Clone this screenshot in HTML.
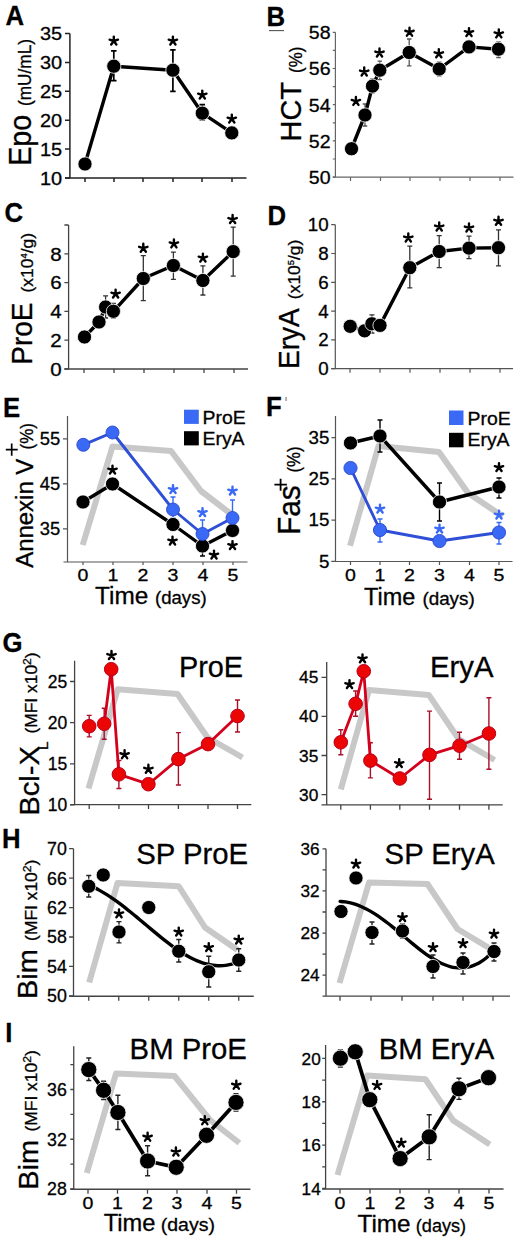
<!DOCTYPE html>
<html><head><meta charset="utf-8"><style>
html,body{margin:0;padding:0;background:#fff;width:520px;height:1242px;overflow:hidden}
svg{display:block}
text{stroke:#000;stroke-width:0.3px;paint-order:stroke}
</style></head><body>
<svg width="520" height="1242" viewBox="0 0 520 1242" font-family='"Liberation Sans", sans-serif'>
<rect width="520" height="1242" fill="#fff"/>
<text transform="translate(5.6 24.6) scale(0.92 1)" font-size="28" text-anchor="start" font-weight="bold" fill="#000" >A</text>
<path d="M69.9 33.5V178M65.0 178H246.5" stroke="#222" stroke-width="1.5" fill="none"/>
<path d="M65.0 33.50H69.9M65.0 62.40H69.9M65.0 91.30H69.9M65.0 120.20H69.9M65.0 149.10H69.9M65.0 178.00H69.9M85 178V182M114 178V182M143 178V182M173 178V182M202 178V182M232 178V182" stroke="#222" stroke-width="1.5" fill="none"/>
<text transform="translate(62.2 40.3) scale(1.05 1)" font-size="19" text-anchor="end" font-weight="normal" fill="#000" >35</text>
<text transform="translate(62.2 69.2) scale(1.05 1)" font-size="19" text-anchor="end" font-weight="normal" fill="#000" >30</text>
<text transform="translate(62.2 98.1) scale(1.05 1)" font-size="19" text-anchor="end" font-weight="normal" fill="#000" >25</text>
<text transform="translate(62.2 127.0) scale(1.05 1)" font-size="19" text-anchor="end" font-weight="normal" fill="#000" >20</text>
<text transform="translate(62.2 155.9) scale(1.05 1)" font-size="19" text-anchor="end" font-weight="normal" fill="#000" >15</text>
<text transform="translate(62.2 184.8) scale(1.05 1)" font-size="19" text-anchor="end" font-weight="normal" fill="#000" >10</text>
<text transform="translate(31.4 165.8) rotate(-90) scale(0.92 1)" font-size="31.2" text-anchor="start" >Epo</text>
<text transform="translate(31.4 106) rotate(-90) scale(0.985 1)" font-size="17.5" text-anchor="start" >(mU/mL)</text>
<path d="M113.8 50.8V80.6M111.05 50.8H116.55M111.05 80.6H116.55" stroke="#000" stroke-width="1.7" fill="none"/>
<path d="M172.9 49.8V91.4M170.15 49.8H175.65M170.15 91.4H175.65" stroke="#000" stroke-width="1.7" fill="none"/>
<path d="M202.3 104.6V120M199.55 104.6H205.05M199.55 120H205.05" stroke="#000" stroke-width="1.7" fill="none"/>
<path d="M85.00 164.00L113.80 66.20L172.90 70.20L202.30 113.20L231.80 132.90" stroke="#000" stroke-width="3.4" fill="none" stroke-linejoin="round" />
<circle cx="85.00" cy="164.00" r="7.1" fill="#000" stroke="#fff" stroke-width="0.8"/>
<circle cx="113.80" cy="66.20" r="7.1" fill="#000" stroke="#fff" stroke-width="0.8"/>
<circle cx="172.90" cy="70.20" r="7.1" fill="#000" stroke="#fff" stroke-width="0.8"/>
<circle cx="202.30" cy="113.20" r="7.1" fill="#000" stroke="#fff" stroke-width="0.8"/>
<circle cx="231.80" cy="132.90" r="7.1" fill="#000" stroke="#fff" stroke-width="0.8"/>
<path d="M113.80 41.00L113.80 36.60M113.80 41.00L117.98 39.64M113.80 41.00L109.62 39.64M113.80 41.00L111.21 44.56M113.80 41.00L116.39 44.56" stroke="#000" stroke-width="2.4" stroke-linecap="round" fill="none"/>
<path d="M172.90 41.00L172.90 36.60M172.90 41.00L177.08 39.64M172.90 41.00L168.72 39.64M172.90 41.00L170.31 44.56M172.90 41.00L175.49 44.56" stroke="#000" stroke-width="2.4" stroke-linecap="round" fill="none"/>
<path d="M202.30 95.00L202.30 90.60M202.30 95.00L206.48 93.64M202.30 95.00L198.12 93.64M202.30 95.00L199.71 98.56M202.30 95.00L204.89 98.56" stroke="#000" stroke-width="2.4" stroke-linecap="round" fill="none"/>
<path d="M231.80 119.00L231.80 114.60M231.80 119.00L235.98 117.64M231.80 119.00L227.62 117.64M231.80 119.00L229.21 122.56M231.80 119.00L234.39 122.56" stroke="#000" stroke-width="2.4" stroke-linecap="round" fill="none"/>
<text transform="translate(266.5 26.2) scale(0.92 1)" font-size="28" text-anchor="start" font-weight="bold" fill="#000" >B</text>
<path d="M269 30.6H284" stroke="#555" stroke-width="1.1"/>
<path d="M335.4 32.3V177.1M332.79999999999995 177.1H513.5" stroke="#666" stroke-width="1.2" fill="none"/>
<path d="M332.79999999999995 32.30H335.4M332.79999999999995 68.50H335.4M332.79999999999995 104.70H335.4M332.79999999999995 140.90H335.4M332.79999999999995 177.10H335.4M332.79999999999995 50.40H335.4M332.79999999999995 86.60H335.4M332.79999999999995 122.80H335.4M332.79999999999995 159.00H335.4M350.5 177.1V181.1M380.5 177.1V181.1M410 177.1V181.1M440 177.1V181.1M470 177.1V181.1M500 177.1V181.1" stroke="#666" stroke-width="1.2" fill="none"/>
<text transform="translate(330.6 39.1) scale(1.03 1)" font-size="19" text-anchor="end" font-weight="normal" fill="#000" >58</text>
<text transform="translate(330.6 75.3) scale(1.03 1)" font-size="19" text-anchor="end" font-weight="normal" fill="#000" >56</text>
<text transform="translate(330.6 111.5) scale(1.03 1)" font-size="19" text-anchor="end" font-weight="normal" fill="#000" >54</text>
<text transform="translate(330.6 147.7) scale(1.03 1)" font-size="19" text-anchor="end" font-weight="normal" fill="#000" >52</text>
<text transform="translate(330.6 183.9) scale(1.03 1)" font-size="19" text-anchor="end" font-weight="normal" fill="#000" >50</text>
<text transform="translate(301.4 141.4) rotate(-90) scale(0.99 1)" font-size="29.2" text-anchor="start" >HCT</text>
<text transform="translate(301.5 73) rotate(-90) scale(0.97 1)" font-size="17.5" text-anchor="start" >(%)</text>
<path d="M365 104V126M362.75 104H367.25M362.75 126H367.25" stroke="#555" stroke-width="1.3" fill="none"/>
<path d="M372.5 79V93M370.25 79H374.75M370.25 93H374.75" stroke="#555" stroke-width="1.3" fill="none"/>
<path d="M379.8 61.2V79.7M377.55 61.2H382.05M377.55 79.7H382.05" stroke="#555" stroke-width="1.3" fill="none"/>
<path d="M409.2 39V65.9M406.95 39H411.45M406.95 65.9H411.45" stroke="#555" stroke-width="1.3" fill="none"/>
<path d="M439.2 62V76M436.95 62H441.45M436.95 76H441.45" stroke="#555" stroke-width="1.3" fill="none"/>
<path d="M469 41V53M466.75 41H471.25M466.75 53H471.25" stroke="#555" stroke-width="1.3" fill="none"/>
<path d="M498.5 42V57.5M496.25 42H500.75M496.25 57.5H500.75" stroke="#555" stroke-width="1.3" fill="none"/>
<path d="M351.50 148.75L365.00 115.00L372.50 86.10L379.80 70.20L409.20 52.50L439.20 69.00L469.00 46.90L498.50 49.20" stroke="#000" stroke-width="3.4" fill="none" stroke-linejoin="round" />
<circle cx="351.50" cy="148.75" r="7.1" fill="#000" stroke="#fff" stroke-width="0.8"/>
<circle cx="365.00" cy="115.00" r="7.1" fill="#000" stroke="#fff" stroke-width="0.8"/>
<circle cx="372.50" cy="86.10" r="7.1" fill="#000" stroke="#fff" stroke-width="0.8"/>
<circle cx="379.80" cy="70.20" r="7.1" fill="#000" stroke="#fff" stroke-width="0.8"/>
<circle cx="409.20" cy="52.50" r="7.1" fill="#000" stroke="#fff" stroke-width="0.8"/>
<circle cx="439.20" cy="69.00" r="7.1" fill="#000" stroke="#fff" stroke-width="0.8"/>
<circle cx="469.00" cy="46.90" r="7.1" fill="#000" stroke="#fff" stroke-width="0.8"/>
<circle cx="498.50" cy="49.20" r="7.1" fill="#000" stroke="#fff" stroke-width="0.8"/>
<path d="M355.90 101.30L355.90 96.90M355.90 101.30L360.08 99.94M355.90 101.30L351.72 99.94M355.90 101.30L353.31 104.86M355.90 101.30L358.49 104.86" stroke="#000" stroke-width="2.4" stroke-linecap="round" fill="none"/>
<path d="M364.20 71.90L364.20 67.50M364.20 71.90L368.38 70.54M364.20 71.90L360.02 70.54M364.20 71.90L361.61 75.46M364.20 71.90L366.79 75.46" stroke="#000" stroke-width="2.4" stroke-linecap="round" fill="none"/>
<path d="M379.50 52.90L379.50 48.50M379.50 52.90L383.68 51.54M379.50 52.90L375.32 51.54M379.50 52.90L376.91 56.46M379.50 52.90L382.09 56.46" stroke="#000" stroke-width="2.4" stroke-linecap="round" fill="none"/>
<path d="M409.50 32.10L409.50 27.70M409.50 32.10L413.68 30.74M409.50 32.10L405.32 30.74M409.50 32.10L406.91 35.66M409.50 32.10L412.09 35.66" stroke="#000" stroke-width="2.4" stroke-linecap="round" fill="none"/>
<path d="M438.80 53.70L438.80 49.30M438.80 53.70L442.98 52.34M438.80 53.70L434.62 52.34M438.80 53.70L436.21 57.26M438.80 53.70L441.39 57.26" stroke="#000" stroke-width="2.4" stroke-linecap="round" fill="none"/>
<path d="M469.00 32.50L469.00 28.10M469.00 32.50L473.18 31.14M469.00 32.50L464.82 31.14M469.00 32.50L466.41 36.06M469.00 32.50L471.59 36.06" stroke="#000" stroke-width="2.4" stroke-linecap="round" fill="none"/>
<path d="M498.80 33.80L498.80 29.40M498.80 33.80L502.98 32.44M498.80 33.80L494.62 32.44M498.80 33.80L496.21 37.36M498.80 33.80L501.39 37.36" stroke="#000" stroke-width="2.4" stroke-linecap="round" fill="none"/>
<text transform="translate(4.5 222.3) scale(0.92 1)" font-size="28" text-anchor="start" font-weight="bold" fill="#000" >C</text>
<path d="M68.6 225V369M64.39999999999999 369H248" stroke="#444" stroke-width="1.3" fill="none"/>
<path d="M64.39999999999999 225.00H68.6M64.39999999999999 253.80H68.6M64.39999999999999 282.60H68.6M64.39999999999999 311.40H68.6M64.39999999999999 340.20H68.6M64.39999999999999 369.00H68.6M84 369V373M114 369V373M144 369V373M174 369V373M204 369V373M234 369V373" stroke="#444" stroke-width="1.3" fill="none"/>
<text transform="translate(61.7 260.6) scale(1.08 1)" font-size="19" text-anchor="end" font-weight="normal" fill="#000" >8</text>
<text transform="translate(61.7 289.4) scale(1.08 1)" font-size="19" text-anchor="end" font-weight="normal" fill="#000" >6</text>
<text transform="translate(61.7 318.2) scale(1.08 1)" font-size="19" text-anchor="end" font-weight="normal" fill="#000" >4</text>
<text transform="translate(61.7 347.0) scale(1.08 1)" font-size="19" text-anchor="end" font-weight="normal" fill="#000" >2</text>
<text transform="translate(61.7 375.8) scale(1.08 1)" font-size="19" text-anchor="end" font-weight="normal" fill="#000" >0</text>
<text transform="translate(32.1 364.7) rotate(-90) scale(0.945 1)" font-size="29.6" text-anchor="start" >ProE</text>
<text transform="translate(33 292.5) rotate(-90) scale(1.03 1)" font-size="17" text-anchor="start" >(x10<tspan font-size="9" dy="-6">4</tspan><tspan dy="6">/g)</tspan></text>
<path d="M105.6 295.8V318M103.1 295.8H108.1M103.1 318H108.1" stroke="#333" stroke-width="1.3" fill="none"/>
<path d="M113.4 303.5V318M110.9 303.5H115.9M110.9 318H115.9" stroke="#333" stroke-width="1.3" fill="none"/>
<path d="M143.3 255.6V300.6M140.8 255.6H145.8M140.8 300.6H145.8" stroke="#333" stroke-width="1.3" fill="none"/>
<path d="M173.4 252.2V279.3M170.9 252.2H175.9M170.9 279.3H175.9" stroke="#333" stroke-width="1.3" fill="none"/>
<path d="M202.9 265.8V295M200.4 265.8H205.4M200.4 295H205.4" stroke="#333" stroke-width="1.3" fill="none"/>
<path d="M233.2 227.2V276.2M230.7 227.2H235.7M230.7 276.2H235.7" stroke="#333" stroke-width="1.3" fill="none"/>
<path d="M84.50 337.00L99.00 322.00L105.60 307.00L113.40 311.30L143.30 278.50L173.40 265.50L202.90 280.50L233.20 251.60" stroke="#000" stroke-width="3.4" fill="none" stroke-linejoin="round" />
<circle cx="84.50" cy="337.00" r="7.1" fill="#000" stroke="#fff" stroke-width="0.8"/>
<circle cx="99.00" cy="322.00" r="7.1" fill="#000" stroke="#fff" stroke-width="0.8"/>
<circle cx="105.60" cy="307.00" r="7.1" fill="#000" stroke="#fff" stroke-width="0.8"/>
<circle cx="113.40" cy="311.30" r="7.1" fill="#000" stroke="#fff" stroke-width="0.8"/>
<circle cx="143.30" cy="278.50" r="7.1" fill="#000" stroke="#fff" stroke-width="0.8"/>
<circle cx="173.40" cy="265.50" r="7.1" fill="#000" stroke="#fff" stroke-width="0.8"/>
<circle cx="202.90" cy="280.50" r="7.1" fill="#000" stroke="#fff" stroke-width="0.8"/>
<circle cx="233.20" cy="251.60" r="7.1" fill="#000" stroke="#fff" stroke-width="0.8"/>
<path d="M115.60 294.00L115.60 289.60M115.60 294.00L119.78 292.64M115.60 294.00L111.42 292.64M115.60 294.00L113.01 297.56M115.60 294.00L118.19 297.56" stroke="#000" stroke-width="2.4" stroke-linecap="round" fill="none"/>
<path d="M143.30 248.20L143.30 243.80M143.30 248.20L147.48 246.84M143.30 248.20L139.12 246.84M143.30 248.20L140.71 251.76M143.30 248.20L145.89 251.76" stroke="#000" stroke-width="2.4" stroke-linecap="round" fill="none"/>
<path d="M173.90 243.80L173.90 239.40M173.90 243.80L178.08 242.44M173.90 243.80L169.72 242.44M173.90 243.80L171.31 247.36M173.90 243.80L176.49 247.36" stroke="#000" stroke-width="2.4" stroke-linecap="round" fill="none"/>
<path d="M202.90 258.00L202.90 253.60M202.90 258.00L207.08 256.64M202.90 258.00L198.72 256.64M202.90 258.00L200.31 261.56M202.90 258.00L205.49 261.56" stroke="#000" stroke-width="2.4" stroke-linecap="round" fill="none"/>
<path d="M232.60 219.40L232.60 215.00M232.60 219.40L236.78 218.04M232.60 219.40L228.42 218.04M232.60 219.40L230.01 222.96M232.60 219.40L235.19 222.96" stroke="#000" stroke-width="2.4" stroke-linecap="round" fill="none"/>
<text transform="translate(267.5 224.6) scale(0.92 1)" font-size="28" text-anchor="start" font-weight="bold" fill="#000" >D</text>
<path d="M335.3 224.7V368.7M331.2 368.7H513" stroke="#555" stroke-width="1.2" fill="none"/>
<path d="M331.2 224.70H335.3M331.2 253.50H335.3M331.2 282.30H335.3M331.2 311.10H335.3M331.2 339.90H335.3M331.2 368.70H335.3M350 368.7V372.7M380 368.7V372.7M410 368.7V372.7M440 368.7V372.7M470 368.7V372.7M500 368.7V372.7" stroke="#555" stroke-width="1.2" fill="none"/>
<text transform="translate(328.6 231.14) scale(1.04 1)" font-size="18" text-anchor="end" font-weight="normal" fill="#000" >10</text>
<text transform="translate(328.6 259.94) scale(1.04 1)" font-size="18" text-anchor="end" font-weight="normal" fill="#000" >8</text>
<text transform="translate(328.6 288.74) scale(1.04 1)" font-size="18" text-anchor="end" font-weight="normal" fill="#000" >6</text>
<text transform="translate(328.6 317.54) scale(1.04 1)" font-size="18" text-anchor="end" font-weight="normal" fill="#000" >4</text>
<text transform="translate(328.6 346.34) scale(1.04 1)" font-size="18" text-anchor="end" font-weight="normal" fill="#000" >2</text>
<text transform="translate(328.6 375.14) scale(1.04 1)" font-size="18" text-anchor="end" font-weight="normal" fill="#000" >0</text>
<text transform="translate(298.5 369) rotate(-90) scale(0.93 1)" font-size="30.2" text-anchor="start" >EryA</text>
<text transform="translate(299.5 299.2) rotate(-90) scale(1.03 1)" font-size="17" text-anchor="start" >(x10<tspan font-size="9" dy="-6">5</tspan><tspan dy="6">/g)</tspan></text>
<path d="M371.9 314.8V333M369.4 314.8H374.4M369.4 333H374.4" stroke="#333" stroke-width="1.3" fill="none"/>
<path d="M409.8 246.2V287.9M407.3 246.2H412.3M407.3 287.9H412.3" stroke="#333" stroke-width="1.3" fill="none"/>
<path d="M439.2 235.6V267.7M436.7 235.6H441.7M436.7 267.7H441.7" stroke="#333" stroke-width="1.3" fill="none"/>
<path d="M469 236.2V258.7M466.5 236.2H471.5M466.5 258.7H471.5" stroke="#333" stroke-width="1.3" fill="none"/>
<path d="M498.5 229.8V265.8M496.0 229.8H501.0M496.0 265.8H501.0" stroke="#333" stroke-width="1.3" fill="none"/>
<path d="M350.20 326.30L364.60 330.80L371.90 323.80L380.00 325.40L409.80 267.70L439.20 251.50L469.00 248.10L498.50 247.70" stroke="#000" stroke-width="3.4" fill="none" stroke-linejoin="round" />
<circle cx="350.20" cy="326.30" r="7.1" fill="#000" stroke="#fff" stroke-width="0.8"/>
<circle cx="364.60" cy="330.80" r="7.1" fill="#000" stroke="#fff" stroke-width="0.8"/>
<circle cx="371.90" cy="323.80" r="7.1" fill="#000" stroke="#fff" stroke-width="0.8"/>
<circle cx="380.00" cy="325.40" r="7.1" fill="#000" stroke="#fff" stroke-width="0.8"/>
<circle cx="409.80" cy="267.70" r="7.1" fill="#000" stroke="#fff" stroke-width="0.8"/>
<circle cx="439.20" cy="251.50" r="7.1" fill="#000" stroke="#fff" stroke-width="0.8"/>
<circle cx="469.00" cy="248.10" r="7.1" fill="#000" stroke="#fff" stroke-width="0.8"/>
<circle cx="498.50" cy="247.70" r="7.1" fill="#000" stroke="#fff" stroke-width="0.8"/>
<path d="M408.30 237.90L408.30 233.50M408.30 237.90L412.48 236.54M408.30 237.90L404.12 236.54M408.30 237.90L405.71 241.46M408.30 237.90L410.89 241.46" stroke="#000" stroke-width="2.4" stroke-linecap="round" fill="none"/>
<path d="M439.20 226.90L439.20 222.50M439.20 226.90L443.38 225.54M439.20 226.90L435.02 225.54M439.20 226.90L436.61 230.46M439.20 226.90L441.79 230.46" stroke="#000" stroke-width="2.4" stroke-linecap="round" fill="none"/>
<path d="M469.00 227.90L469.00 223.50M469.00 227.90L473.18 226.54M469.00 227.90L464.82 226.54M469.00 227.90L466.41 231.46M469.00 227.90L471.59 231.46" stroke="#000" stroke-width="2.4" stroke-linecap="round" fill="none"/>
<path d="M498.50 221.20L498.50 216.80M498.50 221.20L502.68 219.84M498.50 221.20L494.32 219.84M498.50 221.20L495.91 224.76M498.50 221.20L501.09 224.76" stroke="#000" stroke-width="2.4" stroke-linecap="round" fill="none"/>
<text transform="translate(3 416.5) scale(0.92 1)" font-size="28" text-anchor="start" font-weight="bold" fill="#000" >E</text>
<path d="M67.5 416V562M63.5 562H247.5" stroke="#555" stroke-width="1.2" fill="none"/>
<path d="M63.0 438.80H67.5M63.0 483.80H67.5M63.0 528.80H67.5M83 562V565M113 562V565M143 562V565M173 562V565M203 562V565M233 562V565" stroke="#555" stroke-width="1.2" fill="none"/>
<text transform="translate(60.3 445.06) scale(1.05 1)" font-size="17.5" text-anchor="end" font-weight="normal" fill="#000" >55</text>
<text transform="translate(60.3 490.06) scale(1.05 1)" font-size="17.5" text-anchor="end" font-weight="normal" fill="#000" >45</text>
<text transform="translate(60.3 535.06) scale(1.05 1)" font-size="17.5" text-anchor="end" font-weight="normal" fill="#000" >35</text>
<text transform="translate(83 581) scale(1.15 1)" font-size="17" text-anchor="middle" font-weight="normal" fill="#000" >0</text>
<text transform="translate(113 581) scale(1.15 1)" font-size="17" text-anchor="middle" font-weight="normal" fill="#000" >1</text>
<text transform="translate(143 581) scale(1.15 1)" font-size="17" text-anchor="middle" font-weight="normal" fill="#000" >2</text>
<text transform="translate(173 581) scale(1.15 1)" font-size="17" text-anchor="middle" font-weight="normal" fill="#000" >3</text>
<text transform="translate(203 581) scale(1.15 1)" font-size="17" text-anchor="middle" font-weight="normal" fill="#000" >4</text>
<text transform="translate(233 581) scale(1.15 1)" font-size="17" text-anchor="middle" font-weight="normal" fill="#000" >5</text>
<text transform="translate(95.1 604) scale(1.06 1)" font-size="23" text-anchor="start" font-weight="normal" fill="#000" >Time</text>
<text transform="translate(155.05 604) scale(1.015 1)" font-size="18.3" text-anchor="start" font-weight="normal" fill="#000" >(days)</text>
<text transform="translate(32.9 567.8) rotate(-90) scale(0.99 1)" font-size="24.2" text-anchor="start" >Annexin V</text>
<path d="M11.7 443.5V455.8M5.8 449.6H17.7" stroke="#000" stroke-width="1.7"/>
<text transform="translate(32.6 449.5) rotate(-90) scale(0.975 1)" font-size="17.5" text-anchor="start" >(%)</text>
<path d="M82.70 545.00L112.50 446.50L171.00 451.00L201.00 491.00L231.00 514.00" stroke="#c8c8c8" stroke-width="6.0" fill="none" stroke-linejoin="round" stroke-linecap="butt"/>
<path d="M173 497V518M170.5 497H175.5M170.5 518H175.5" stroke="#3a6af5" stroke-width="1.4" fill="none"/>
<path d="M202.5 520V540M200.0 520H205.0M200.0 540H205.0" stroke="#3a6af5" stroke-width="1.4" fill="none"/>
<path d="M232.5 500V525M230.0 500H235.0M230.0 525H235.0" stroke="#3a6af5" stroke-width="1.4" fill="none"/>
<path d="M202.5 540V556M200.0 540H205.0M200.0 556H205.0" stroke="#000" stroke-width="1.4" fill="none"/>
<path d="M83.00 502.00L112.50 484.00L173.00 524.50L202.50 546.00L232.50 530.50" stroke="#000" stroke-width="3.4" fill="none" stroke-linejoin="round" />
<path d="M83.30 444.80L112.50 432.50L173.00 509.50L202.50 534.00L232.50 518.00" stroke="#2e4fd6" stroke-width="2.9" fill="none" stroke-linejoin="round" />
<circle cx="83.00" cy="502.00" r="7.1" fill="#000" stroke="#fff" stroke-width="0.8"/>
<circle cx="112.50" cy="484.00" r="7.1" fill="#000" stroke="#fff" stroke-width="0.8"/>
<circle cx="173.00" cy="524.50" r="7.1" fill="#000" stroke="#fff" stroke-width="0.8"/>
<circle cx="202.50" cy="546.00" r="7.1" fill="#000" stroke="#fff" stroke-width="0.8"/>
<circle cx="232.50" cy="530.50" r="7.1" fill="#000" stroke="#fff" stroke-width="0.8"/>
<circle cx="83.30" cy="444.80" r="6.5" fill="#3a6af5" stroke="#2a48cc" stroke-width="0.9"/>
<circle cx="112.50" cy="432.50" r="6.5" fill="#3a6af5" stroke="#2a48cc" stroke-width="0.9"/>
<circle cx="173.00" cy="509.50" r="6.5" fill="#3a6af5" stroke="#2a48cc" stroke-width="0.9"/>
<circle cx="202.50" cy="534.00" r="6.5" fill="#3a6af5" stroke="#2a48cc" stroke-width="0.9"/>
<circle cx="232.50" cy="518.00" r="6.5" fill="#3a6af5" stroke="#2a48cc" stroke-width="0.9"/>
<path d="M112.50 470.00L112.50 465.60M112.50 470.00L116.68 468.64M112.50 470.00L108.32 468.64M112.50 470.00L109.91 473.56M112.50 470.00L115.09 473.56" stroke="#000" stroke-width="2.4" stroke-linecap="round" fill="none"/>
<path d="M172.50 541.00L172.50 536.60M172.50 541.00L176.68 539.64M172.50 541.00L168.32 539.64M172.50 541.00L169.91 544.56M172.50 541.00L175.09 544.56" stroke="#000" stroke-width="2.4" stroke-linecap="round" fill="none"/>
<path d="M214.00 555.00L214.00 550.60M214.00 555.00L218.18 553.64M214.00 555.00L209.82 553.64M214.00 555.00L211.41 558.56M214.00 555.00L216.59 558.56" stroke="#000" stroke-width="2.4" stroke-linecap="round" fill="none"/>
<path d="M232.50 545.50L232.50 541.10M232.50 545.50L236.68 544.14M232.50 545.50L228.32 544.14M232.50 545.50L229.91 549.06M232.50 545.50L235.09 549.06" stroke="#000" stroke-width="2.4" stroke-linecap="round" fill="none"/>
<path d="M173.00 489.50L173.00 485.10M173.00 489.50L177.18 488.14M173.00 489.50L168.82 488.14M173.00 489.50L170.41 493.06M173.00 489.50L175.59 493.06" stroke="#3a6af5" stroke-width="2.4" stroke-linecap="round" fill="none"/>
<path d="M202.50 512.50L202.50 508.10M202.50 512.50L206.68 511.14M202.50 512.50L198.32 511.14M202.50 512.50L199.91 516.06M202.50 512.50L205.09 516.06" stroke="#3a6af5" stroke-width="2.4" stroke-linecap="round" fill="none"/>
<path d="M232.50 491.00L232.50 486.60M232.50 491.00L236.68 489.64M232.50 491.00L228.32 489.64M232.50 491.00L229.91 494.56M232.50 491.00L235.09 494.56" stroke="#3a6af5" stroke-width="2.4" stroke-linecap="round" fill="none"/>
<rect x="184" y="409.7" width="14.8" height="14.2" fill="#3a6af5"/>
<rect x="184" y="431.2" width="14.8" height="14.2" fill="#000"/>
<text transform="translate(202.5 423.8) scale(1.05 1)" font-size="18.5" text-anchor="start" font-weight="normal" fill="#000" >ProE</text>
<text transform="translate(202.5 445.1) scale(1.05 1)" font-size="18.5" text-anchor="start" font-weight="normal" fill="#000" >EryA</text>
<text transform="translate(266 416.2) scale(0.92 1)" font-size="28" text-anchor="start" font-weight="bold" fill="#000" >F</text>
<path d="M286.1 397V401" stroke="#888" stroke-width="1.3"/>
<path d="M335.5 416V561.5M331.5 561.5H512.5" stroke="#555" stroke-width="1.2" fill="none"/>
<path d="M331.5 437.60H335.5M331.5 478.87H335.5M331.5 520.14H335.5M331.5 561.41H335.5M350.5 561.5V565.0M380 561.5V565.0M409.5 561.5V565.0M439.5 561.5V565.0M469.5 561.5V565.0M499 561.5V565.0" stroke="#555" stroke-width="1.2" fill="none"/>
<text transform="translate(329.3 443.87) scale(1.07 1)" font-size="17.5" text-anchor="end" font-weight="normal" fill="#000" >35</text>
<text transform="translate(329.3 485.13) scale(1.07 1)" font-size="17.5" text-anchor="end" font-weight="normal" fill="#000" >25</text>
<text transform="translate(329.3 526.4) scale(1.07 1)" font-size="17.5" text-anchor="end" font-weight="normal" fill="#000" >15</text>
<text transform="translate(329.3 567.67) scale(1.07 1)" font-size="17.5" text-anchor="end" font-weight="normal" fill="#000" >5</text>
<text transform="translate(350.5 581) scale(1.15 1)" font-size="17" text-anchor="middle" font-weight="normal" fill="#000" >0</text>
<text transform="translate(380 581) scale(1.15 1)" font-size="17" text-anchor="middle" font-weight="normal" fill="#000" >1</text>
<text transform="translate(409.5 581) scale(1.15 1)" font-size="17" text-anchor="middle" font-weight="normal" fill="#000" >2</text>
<text transform="translate(439.5 581) scale(1.15 1)" font-size="17" text-anchor="middle" font-weight="normal" fill="#000" >3</text>
<text transform="translate(469.5 581) scale(1.15 1)" font-size="17" text-anchor="middle" font-weight="normal" fill="#000" >4</text>
<text transform="translate(499 581) scale(1.15 1)" font-size="17" text-anchor="middle" font-weight="normal" fill="#000" >5</text>
<text transform="translate(364.0 604.7) scale(1.02 1)" font-size="23" text-anchor="start" font-weight="normal" fill="#000" >Time</text>
<text transform="translate(422.4 604.7) scale(1.03 1)" font-size="18.3" text-anchor="start" font-weight="normal" fill="#000" >(days)</text>
<text transform="translate(299.7 535) rotate(-90) scale(0.98 1)" font-size="30.5" text-anchor="start" >Fas</text>
<path d="M280.6 478.7V490.8M274.4 484.7H286.9" stroke="#000" stroke-width="1.8"/>
<text transform="translate(299.7 472.5) rotate(-90) scale(0.96 1)" font-size="17.5" text-anchor="start" >(%)</text>
<path d="M350.00 545.80L378.50 446.00L439.00 452.00L468.00 493.00L503.00 516.50" stroke="#c8c8c8" stroke-width="6.0" fill="none" stroke-linejoin="round" stroke-linecap="butt"/>
<path d="M380 420V452M377.5 420H382.5M377.5 452H382.5" stroke="#000" stroke-width="1.4" fill="none"/>
<path d="M439.5 483V521M437.0 483H442.0M437.0 521H442.0" stroke="#000" stroke-width="1.4" fill="none"/>
<path d="M499 478V498M496.5 478H501.5M496.5 498H501.5" stroke="#000" stroke-width="1.4" fill="none"/>
<path d="M380 519V542M377.5 519H382.5M377.5 542H382.5" stroke="#3a6af5" stroke-width="1.4" fill="none"/>
<path d="M499 522.5V544M496.5 522.5H501.5M496.5 544H501.5" stroke="#3a6af5" stroke-width="1.4" fill="none"/>
<path d="M350.50 443.00L380.00 436.00L439.50 502.00L499.00 487.00" stroke="#000" stroke-width="3.4" fill="none" stroke-linejoin="round" />
<path d="M350.50 468.00L380.00 530.00L439.50 541.00L499.00 532.50" stroke="#2e4fd6" stroke-width="2.9" fill="none" stroke-linejoin="round" />
<circle cx="350.50" cy="443.00" r="7.1" fill="#000" stroke="#fff" stroke-width="0.8"/>
<circle cx="380.00" cy="436.00" r="7.1" fill="#000" stroke="#fff" stroke-width="0.8"/>
<circle cx="439.50" cy="502.00" r="7.1" fill="#000" stroke="#fff" stroke-width="0.8"/>
<circle cx="499.00" cy="487.00" r="7.1" fill="#000" stroke="#fff" stroke-width="0.8"/>
<circle cx="350.50" cy="468.00" r="6.6" fill="#3a6af5" stroke="#2a48cc" stroke-width="0.9"/>
<circle cx="380.00" cy="530.00" r="6.6" fill="#3a6af5" stroke="#2a48cc" stroke-width="0.9"/>
<circle cx="439.50" cy="541.00" r="6.6" fill="#3a6af5" stroke="#2a48cc" stroke-width="0.9"/>
<circle cx="499.00" cy="532.50" r="6.6" fill="#3a6af5" stroke="#2a48cc" stroke-width="0.9"/>
<path d="M499.00 467.50L499.00 463.10M499.00 467.50L503.18 466.14M499.00 467.50L494.82 466.14M499.00 467.50L496.41 471.06M499.00 467.50L501.59 471.06" stroke="#000" stroke-width="2.4" stroke-linecap="round" fill="none"/>
<path d="M380.00 509.00L380.00 504.60M380.00 509.00L384.18 507.64M380.00 509.00L375.82 507.64M380.00 509.00L377.41 512.56M380.00 509.00L382.59 512.56" stroke="#3a6af5" stroke-width="2.4" stroke-linecap="round" fill="none"/>
<path d="M439.50 529.00L439.50 524.60M439.50 529.00L443.68 527.64M439.50 529.00L435.32 527.64M439.50 529.00L436.91 532.56M439.50 529.00L442.09 532.56" stroke="#3a6af5" stroke-width="2.4" stroke-linecap="round" fill="none"/>
<path d="M499.00 515.00L499.00 510.60M499.00 515.00L503.18 513.64M499.00 515.00L494.82 513.64M499.00 515.00L496.41 518.56M499.00 515.00L501.59 518.56" stroke="#3a6af5" stroke-width="2.4" stroke-linecap="round" fill="none"/>
<rect x="449" y="410.5" width="14.5" height="14.5" fill="#3a6af5"/>
<rect x="449" y="432.8" width="14.5" height="14.5" fill="#000"/>
<text transform="translate(467.5 425) scale(1.05 1)" font-size="18.5" text-anchor="start" font-weight="normal" fill="#000" >ProE</text>
<text transform="translate(467.5 446.3) scale(1.05 1)" font-size="18.5" text-anchor="start" font-weight="normal" fill="#000" >EryA</text>
<text transform="translate(2.5 651.5) scale(0.92 1)" font-size="28" text-anchor="start" font-weight="bold" fill="#000" >G</text>
<path d="M74.6 660.8V804.6M70.0 804.6H251.3" stroke="#444" stroke-width="1.3" fill="none"/>
<path d="M70.0 681.50H74.6M70.0 722.65H74.6M70.0 763.80H74.6M70.0 804.95H74.6M89.2 804.6V809.1M118.9 804.6V809.1M148.5 804.6V809.1M178.4 804.6V809.1M208 804.6V809.1M237.5 804.6V809.1" stroke="#444" stroke-width="1.3" fill="none"/>
<text transform="translate(67.3 687.76) scale(1.0 1)" font-size="17.5" text-anchor="end" font-weight="normal" fill="#000" >25</text>
<text transform="translate(67.3 728.91) scale(1.0 1)" font-size="17.5" text-anchor="end" font-weight="normal" fill="#000" >20</text>
<text transform="translate(67.3 770.06) scale(1.0 1)" font-size="17.5" text-anchor="end" font-weight="normal" fill="#000" >15</text>
<text transform="translate(67.3 811.22) scale(1.0 1)" font-size="17.5" text-anchor="end" font-weight="normal" fill="#000" >10</text>
<text transform="translate(39.4 815.8) rotate(-90) scale(1.045 1)" font-size="28" text-anchor="start" >Bcl-X</text>
<text transform="translate(47.5 750) rotate(-90) scale(1.0 1)" font-size="15.5" text-anchor="start" >L</text>
<text transform="translate(37.1 733.6) rotate(-90) scale(1.056 1)" font-size="16.5" text-anchor="start" >(MFI x10<tspan font-size="11.5" dy="-6">2</tspan><tspan dy="6">)</tspan></text>
<path d="M88.50 788.50L117.70 689.20L177.50 694.00L207.50 737.50L242.50 757.50" stroke="#c8c8c8" stroke-width="6.0" fill="none" stroke-linejoin="round" stroke-linecap="butt"/>
<path d="M89.2 715.4V736.9M86.7 715.4H91.7M86.7 736.9H91.7" stroke="#a8102a" stroke-width="1.4" fill="none"/>
<path d="M104.2 708.2V739.2M101.7 708.2H106.7M101.7 739.2H106.7" stroke="#a8102a" stroke-width="1.4" fill="none"/>
<path d="M118.9 760.5V788.5M116.4 760.5H121.4M116.4 788.5H121.4" stroke="#a8102a" stroke-width="1.4" fill="none"/>
<path d="M178.4 732.6V785M175.9 732.6H180.9M175.9 785H180.9" stroke="#a8102a" stroke-width="1.4" fill="none"/>
<path d="M237.5 700V732M235.0 700H240.0M235.0 732H240.0" stroke="#a8102a" stroke-width="1.4" fill="none"/>
<path d="M104.20 723.80L111.20 669.20L118.90 774.30L148.40 784.20L178.40 759.10L208.00 744.10L237.50 716.00" stroke="#d4001c" stroke-width="2.8" fill="none" stroke-linejoin="round" />
<circle cx="89.20" cy="726.20" r="6.8" fill="#ec0505" stroke="#b8001a" stroke-width="1.0"/>
<circle cx="104.20" cy="723.80" r="6.8" fill="#ec0505" stroke="#b8001a" stroke-width="1.0"/>
<circle cx="111.20" cy="669.20" r="6.8" fill="#ec0505" stroke="#b8001a" stroke-width="1.0"/>
<circle cx="118.90" cy="774.30" r="6.8" fill="#ec0505" stroke="#b8001a" stroke-width="1.0"/>
<circle cx="148.40" cy="784.20" r="6.8" fill="#ec0505" stroke="#b8001a" stroke-width="1.0"/>
<circle cx="178.40" cy="759.10" r="6.8" fill="#ec0505" stroke="#b8001a" stroke-width="1.0"/>
<circle cx="208.00" cy="744.10" r="6.8" fill="#ec0505" stroke="#b8001a" stroke-width="1.0"/>
<circle cx="237.50" cy="716.00" r="6.8" fill="#ec0505" stroke="#b8001a" stroke-width="1.0"/>
<path d="M111.50 655.40L111.50 651.00M111.50 655.40L115.68 654.04M111.50 655.40L107.32 654.04M111.50 655.40L108.91 658.96M111.50 655.40L114.09 658.96" stroke="#000" stroke-width="2.4" stroke-linecap="round" fill="none"/>
<path d="M124.60 754.60L124.60 750.20M124.60 754.60L128.78 753.24M124.60 754.60L120.42 753.24M124.60 754.60L122.01 758.16M124.60 754.60L127.19 758.16" stroke="#000" stroke-width="2.4" stroke-linecap="round" fill="none"/>
<path d="M148.40 769.20L148.40 764.80M148.40 769.20L152.58 767.84M148.40 769.20L144.22 767.84M148.40 769.20L145.81 772.76M148.40 769.20L150.99 772.76" stroke="#000" stroke-width="2.4" stroke-linecap="round" fill="none"/>
<text transform="translate(178.9 677.3) scale(0.985 1)" font-size="29.3" text-anchor="start" font-weight="normal" fill="#000" >ProE</text>
<path d="M326.7 662V804.8M321.5 804.8H502.7" stroke="#444" stroke-width="1.3" fill="none"/>
<path d="M321.5 677.30H326.7M321.5 716.40H326.7M321.5 755.50H326.7M321.5 794.60H326.7M340.8 804.8V809.8M370.4 804.8V809.8M399.8 804.8V809.8M429.5 804.8V809.8M459.5 804.8V809.8M488.9 804.8V809.8" stroke="#444" stroke-width="1.3" fill="none"/>
<text transform="translate(318.4 683.39) scale(1.02 1)" font-size="17" text-anchor="end" font-weight="normal" fill="#000" >45</text>
<text transform="translate(318.4 722.49) scale(1.02 1)" font-size="17" text-anchor="end" font-weight="normal" fill="#000" >40</text>
<text transform="translate(318.4 761.59) scale(1.02 1)" font-size="17" text-anchor="end" font-weight="normal" fill="#000" >35</text>
<text transform="translate(318.4 800.69) scale(1.02 1)" font-size="17" text-anchor="end" font-weight="normal" fill="#000" >30</text>
<path d="M340.80 789.40L369.00 690.00L428.80 694.90L458.80 739.20L494.60 760.00" stroke="#c8c8c8" stroke-width="6.0" fill="none" stroke-linejoin="round" stroke-linecap="butt"/>
<path d="M340.8 729.8V754.8M338.3 729.8H343.3M338.3 754.8H343.3" stroke="#a8102a" stroke-width="1.4" fill="none"/>
<path d="M355.6 691V716.3M353.1 691H358.1M353.1 716.3H358.1" stroke="#a8102a" stroke-width="1.4" fill="none"/>
<path d="M370.4 742.7V777.9M367.9 742.7H372.9M367.9 777.9H372.9" stroke="#a8102a" stroke-width="1.4" fill="none"/>
<path d="M429.5 711.1V799.2M427.0 711.1H432.0M427.0 799.2H432.0" stroke="#a8102a" stroke-width="1.4" fill="none"/>
<path d="M459.5 732.3V759.3M457.0 732.3H462.0M457.0 759.3H462.0" stroke="#a8102a" stroke-width="1.4" fill="none"/>
<path d="M488.9 697.7V769.2M486.4 697.7H491.4M486.4 769.2H491.4" stroke="#a8102a" stroke-width="1.4" fill="none"/>
<path d="M340.80 742.30L355.60 703.80L363.75 671.25L370.40 760.60L399.80 778.50L429.50 754.90L459.50 745.70L488.90 733.50" stroke="#d4001c" stroke-width="2.8" fill="none" stroke-linejoin="round" />
<circle cx="340.80" cy="742.30" r="6.8" fill="#ec0505" stroke="#b8001a" stroke-width="1.0"/>
<circle cx="355.60" cy="703.80" r="6.8" fill="#ec0505" stroke="#b8001a" stroke-width="1.0"/>
<circle cx="363.75" cy="671.25" r="6.8" fill="#ec0505" stroke="#b8001a" stroke-width="1.0"/>
<circle cx="370.40" cy="760.60" r="6.8" fill="#ec0505" stroke="#b8001a" stroke-width="1.0"/>
<circle cx="399.80" cy="778.50" r="6.8" fill="#ec0505" stroke="#b8001a" stroke-width="1.0"/>
<circle cx="429.50" cy="754.90" r="6.8" fill="#ec0505" stroke="#b8001a" stroke-width="1.0"/>
<circle cx="459.50" cy="745.70" r="6.8" fill="#ec0505" stroke="#b8001a" stroke-width="1.0"/>
<circle cx="488.90" cy="733.50" r="6.8" fill="#ec0505" stroke="#b8001a" stroke-width="1.0"/>
<path d="M349.50 684.50L349.50 680.10M349.50 684.50L353.68 683.14M349.50 684.50L345.32 683.14M349.50 684.50L346.91 688.06M349.50 684.50L352.09 688.06" stroke="#000" stroke-width="2.4" stroke-linecap="round" fill="none"/>
<path d="M362.50 658.75L362.50 654.35M362.50 658.75L366.68 657.39M362.50 658.75L358.32 657.39M362.50 658.75L359.91 662.31M362.50 658.75L365.09 662.31" stroke="#000" stroke-width="2.4" stroke-linecap="round" fill="none"/>
<path d="M399.20 763.50L399.20 759.10M399.20 763.50L403.38 762.14M399.20 763.50L395.02 762.14M399.20 763.50L396.61 767.06M399.20 763.50L401.79 767.06" stroke="#000" stroke-width="2.4" stroke-linecap="round" fill="none"/>
<text transform="translate(430 677) scale(1.0 1)" font-size="29.3" text-anchor="start" font-weight="normal" fill="#000" >EryA</text>
<text transform="translate(2 848) scale(0.92 1)" font-size="28" text-anchor="start" font-weight="bold" fill="#000" >H</text>
<path d="M73.5 848.7V996.25M69.1 996.25H253.75" stroke="#444" stroke-width="1.3" fill="none"/>
<path d="M69.1 848.70H73.5M69.1 878.14H73.5M69.1 907.58H73.5M69.1 937.02H73.5M69.1 966.46H73.5M69.1 995.90H73.5M88.75 996.25V1000.75M118.75 996.25V1000.75M148.75 996.25V1000.75M178.75 996.25V1000.75M208.75 996.25V1000.75M238.75 996.25V1000.75" stroke="#444" stroke-width="1.3" fill="none"/>
<text transform="translate(66.9 855.07) scale(1.0 1)" font-size="17.8" text-anchor="end" font-weight="normal" fill="#000" >70</text>
<text transform="translate(66.9 884.51) scale(1.0 1)" font-size="17.8" text-anchor="end" font-weight="normal" fill="#000" >66</text>
<text transform="translate(66.9 913.95) scale(1.0 1)" font-size="17.8" text-anchor="end" font-weight="normal" fill="#000" >62</text>
<text transform="translate(66.9 943.39) scale(1.0 1)" font-size="17.8" text-anchor="end" font-weight="normal" fill="#000" >58</text>
<text transform="translate(66.9 972.83) scale(1.0 1)" font-size="17.8" text-anchor="end" font-weight="normal" fill="#000" >54</text>
<text transform="translate(66.9 1002.27) scale(1.0 1)" font-size="17.8" text-anchor="end" font-weight="normal" fill="#000" >50</text>
<text transform="translate(37.3 998.9) rotate(-90) scale(1.036 1)" font-size="27.9" text-anchor="start" >Bim</text>
<text transform="translate(37.1 940.9) rotate(-90) scale(1.056 1)" font-size="16.5" text-anchor="start" >(MFI x10<tspan font-size="11.5" dy="-6">2</tspan><tspan dy="6">)</tspan></text>
<path d="M89.20 982.50L117.50 883.00L178.75 886.25L205.00 927.50L237.50 950.00" stroke="#c8c8c8" stroke-width="6.0" fill="none" stroke-linejoin="round" stroke-linecap="butt"/>
<path d="M89.30 885.17C90.16 885.58 92.73 886.76 94.44 887.63C96.16 888.50 97.87 889.42 99.59 890.38C101.30 891.34 103.02 892.35 104.73 893.40C106.45 894.45 108.16 895.55 109.88 896.69C111.59 897.82 113.31 899.00 115.02 900.21C116.74 901.42 118.45 902.67 120.17 903.95C121.88 905.23 123.60 906.54 125.31 907.88C127.03 909.22 128.74 910.58 130.46 911.96C132.17 913.34 133.89 914.75 135.60 916.17C137.32 917.58 139.03 919.02 140.75 920.46C142.46 921.89 144.18 923.34 145.89 924.79C147.61 926.23 149.32 927.68 151.04 929.12C152.75 930.55 154.47 931.99 156.18 933.41C157.90 934.82 159.61 936.23 161.33 937.61C163.04 938.99 164.76 940.35 166.47 941.68C168.19 943.01 169.90 944.32 171.62 945.58C173.33 946.84 175.05 948.07 176.76 949.25C178.48 950.43 180.19 951.58 181.91 952.66C183.62 953.75 185.34 954.79 187.05 955.76C188.77 956.74 190.48 957.66 192.20 958.51C193.91 959.37 195.63 960.16 197.34 960.87C199.06 961.59 200.77 962.24 202.49 962.80C204.20 963.37 205.92 963.86 207.63 964.27C209.35 964.67 211.06 965.00 212.78 965.24C214.49 965.47 216.21 965.63 217.92 965.68C219.64 965.74 221.35 965.71 223.07 965.58C224.78 965.45 226.50 965.22 228.21 964.90C229.93 964.58 231.64 964.16 233.36 963.64C235.07 963.12 237.64 962.09 238.50 961.78" stroke="#000" stroke-width="3.4" fill="none" stroke-linecap="round"/>
<path d="M88.75 875.5V897M86.25 875.5H91.25M86.25 897H91.25" stroke="#222" stroke-width="1.4" fill="none"/>
<path d="M119 921.6V942.9M116.5 921.6H121.5M116.5 942.9H121.5" stroke="#222" stroke-width="1.4" fill="none"/>
<path d="M178.75 939.5V962M176.25 939.5H181.25M176.25 962H181.25" stroke="#222" stroke-width="1.4" fill="none"/>
<path d="M208.75 956.25V987M206.25 956.25H211.25M206.25 987H211.25" stroke="#222" stroke-width="1.4" fill="none"/>
<path d="M238.75 948.75V971.25M236.25 948.75H241.25M236.25 971.25H241.25" stroke="#222" stroke-width="1.4" fill="none"/>
<circle cx="88.75" cy="886.25" r="7.1" fill="#000" stroke="#fff" stroke-width="0.8"/>
<circle cx="103.25" cy="875.00" r="7.1" fill="#000" stroke="#fff" stroke-width="0.8"/>
<circle cx="119.00" cy="932.00" r="7.1" fill="#000" stroke="#fff" stroke-width="0.8"/>
<circle cx="148.75" cy="907.50" r="7.1" fill="#000" stroke="#fff" stroke-width="0.8"/>
<circle cx="178.75" cy="951.25" r="7.1" fill="#000" stroke="#fff" stroke-width="0.8"/>
<circle cx="208.75" cy="971.75" r="7.1" fill="#000" stroke="#fff" stroke-width="0.8"/>
<circle cx="238.75" cy="960.00" r="7.1" fill="#000" stroke="#fff" stroke-width="0.8"/>
<path d="M119.00 913.75L119.00 909.35M119.00 913.75L123.18 912.39M119.00 913.75L114.82 912.39M119.00 913.75L116.41 917.31M119.00 913.75L121.59 917.31" stroke="#000" stroke-width="2.4" stroke-linecap="round" fill="none"/>
<path d="M178.75 932.00L178.75 927.60M178.75 932.00L182.93 930.64M178.75 932.00L174.57 930.64M178.75 932.00L176.16 935.56M178.75 932.00L181.34 935.56" stroke="#000" stroke-width="2.4" stroke-linecap="round" fill="none"/>
<path d="M208.75 947.50L208.75 943.10M208.75 947.50L212.93 946.14M208.75 947.50L204.57 946.14M208.75 947.50L206.16 951.06M208.75 947.50L211.34 951.06" stroke="#000" stroke-width="2.4" stroke-linecap="round" fill="none"/>
<path d="M238.75 940.00L238.75 935.60M238.75 940.00L242.93 938.64M238.75 940.00L234.57 938.64M238.75 940.00L236.16 943.56M238.75 940.00L241.34 943.56" stroke="#000" stroke-width="2.4" stroke-linecap="round" fill="none"/>
<text transform="translate(136.3 864) scale(1.0 1)" font-size="29.3" text-anchor="start" font-weight="normal" fill="#000" >SP ProE</text>
<path d="M326 848.8V996.2M322.5 996.2H510" stroke="#444" stroke-width="1.3" fill="none"/>
<path d="M322.5 848.80H326M322.5 890.92H326M322.5 933.04H326M322.5 975.16H326M322.5 869.86H326M322.5 911.98H326M322.5 954.10H326M340 996.2V1000.7M371 996.2V1000.7M402 996.2V1000.7M433 996.2V1000.7M463 996.2V1000.7M493 996.2V1000.7" stroke="#444" stroke-width="1.3" fill="none"/>
<text transform="translate(319.5 854.96) scale(1.0 1)" font-size="17.2" text-anchor="end" font-weight="normal" fill="#000" >36</text>
<text transform="translate(319.5 897.08) scale(1.0 1)" font-size="17.2" text-anchor="end" font-weight="normal" fill="#000" >32</text>
<text transform="translate(319.5 939.2) scale(1.0 1)" font-size="17.2" text-anchor="end" font-weight="normal" fill="#000" >28</text>
<text transform="translate(319.5 981.32) scale(1.0 1)" font-size="17.2" text-anchor="end" font-weight="normal" fill="#000" >24</text>
<path d="M339.50 983.00L369.00 882.50L427.50 884.00L457.50 929.00L492.50 950.00" stroke="#c8c8c8" stroke-width="6.0" fill="none" stroke-linejoin="round" stroke-linecap="butt"/>
<path d="M340.10 901.40C340.97 901.48 343.59 901.66 345.34 901.92C347.08 902.18 348.83 902.52 350.58 902.95C352.32 903.37 354.07 903.88 355.81 904.47C357.56 905.06 359.31 905.74 361.05 906.49C362.80 907.24 364.54 908.07 366.29 908.97C368.04 909.87 369.78 910.84 371.53 911.88C373.27 912.91 375.02 914.02 376.77 915.17C378.51 916.33 380.26 917.55 382.00 918.81C383.75 920.07 385.50 921.39 387.24 922.73C388.99 924.08 390.73 925.47 392.48 926.88C394.23 928.29 395.97 929.73 397.72 931.18C399.46 932.63 401.21 934.11 402.96 935.58C404.70 937.04 406.45 938.52 408.19 939.98C409.94 941.44 411.69 942.90 413.43 944.33C415.18 945.75 416.92 947.17 418.67 948.54C420.41 949.90 422.16 951.24 423.91 952.53C425.65 953.81 427.40 955.05 429.14 956.22C430.89 957.39 432.64 958.51 434.38 959.54C436.13 960.57 437.87 961.54 439.62 962.41C441.37 963.29 443.11 964.08 444.86 964.77C446.60 965.45 448.35 966.05 450.10 966.52C451.84 967.00 453.59 967.38 455.33 967.62C457.08 967.87 458.83 968.01 460.57 968.01C462.32 968.00 464.06 967.88 465.81 967.61C467.56 967.34 469.30 966.94 471.05 966.39C472.79 965.84 474.54 965.16 476.29 964.31C478.03 963.47 479.78 962.48 481.52 961.33C483.27 960.18 485.02 958.89 486.76 957.43C488.51 955.97 491.13 953.39 492.00 952.59" stroke="#000" stroke-width="3.4" fill="none" stroke-linecap="round"/>
<path d="M372 922V944M369.5 922H374.5M369.5 944H374.5" stroke="#222" stroke-width="1.4" fill="none"/>
<path d="M402.5 924V938M400.0 924H405.0M400.0 938H405.0" stroke="#222" stroke-width="1.4" fill="none"/>
<path d="M433 955V978M430.5 955H435.5M430.5 978H435.5" stroke="#222" stroke-width="1.4" fill="none"/>
<path d="M463 953V974M460.5 953H465.5M460.5 974H465.5" stroke="#222" stroke-width="1.4" fill="none"/>
<path d="M494 943V961M491.5 943H496.5M491.5 961H496.5" stroke="#222" stroke-width="1.4" fill="none"/>
<circle cx="341.00" cy="911.50" r="7.1" fill="#000" stroke="#fff" stroke-width="0.8"/>
<circle cx="356.00" cy="878.00" r="7.1" fill="#000" stroke="#fff" stroke-width="0.8"/>
<circle cx="372.00" cy="932.50" r="7.1" fill="#000" stroke="#fff" stroke-width="0.8"/>
<circle cx="402.50" cy="931.00" r="7.1" fill="#000" stroke="#fff" stroke-width="0.8"/>
<circle cx="433.00" cy="966.50" r="7.1" fill="#000" stroke="#fff" stroke-width="0.8"/>
<circle cx="463.00" cy="962.50" r="7.1" fill="#000" stroke="#fff" stroke-width="0.8"/>
<circle cx="494.00" cy="951.50" r="7.1" fill="#000" stroke="#fff" stroke-width="0.8"/>
<path d="M356.00 864.00L356.00 859.60M356.00 864.00L360.18 862.64M356.00 864.00L351.82 862.64M356.00 864.00L353.41 867.56M356.00 864.00L358.59 867.56" stroke="#000" stroke-width="2.4" stroke-linecap="round" fill="none"/>
<path d="M402.50 917.50L402.50 913.10M402.50 917.50L406.68 916.14M402.50 917.50L398.32 916.14M402.50 917.50L399.91 921.06M402.50 917.50L405.09 921.06" stroke="#000" stroke-width="2.4" stroke-linecap="round" fill="none"/>
<path d="M433.00 947.50L433.00 943.10M433.00 947.50L437.18 946.14M433.00 947.50L428.82 946.14M433.00 947.50L430.41 951.06M433.00 947.50L435.59 951.06" stroke="#000" stroke-width="2.4" stroke-linecap="round" fill="none"/>
<path d="M463.00 943.50L463.00 939.10M463.00 943.50L467.18 942.14M463.00 943.50L458.82 942.14M463.00 943.50L460.41 947.06M463.00 943.50L465.59 947.06" stroke="#000" stroke-width="2.4" stroke-linecap="round" fill="none"/>
<path d="M494.00 934.00L494.00 929.60M494.00 934.00L498.18 932.64M494.00 934.00L489.82 932.64M494.00 934.00L491.41 937.56M494.00 934.00L496.59 937.56" stroke="#000" stroke-width="2.4" stroke-linecap="round" fill="none"/>
<text transform="translate(384.6 864) scale(1.0 1)" font-size="29.3" text-anchor="start" font-weight="normal" fill="#000" >SP EryA</text>
<text transform="translate(5.3 1042) scale(0.92 1)" font-size="28" text-anchor="start" font-weight="bold" fill="#000" >I</text>
<path d="M73.75 1046.25V1189.25M70.35 1189.25H250.4" stroke="#444" stroke-width="1.3" fill="none"/>
<path d="M70.35 1089.50H73.75M70.35 1139.26H73.75M70.35 1189.02H73.75M70.35 1064.62H73.75M70.35 1114.38H73.75M70.35 1164.14H73.75M88 1189.25V1193.75M117.5 1189.25V1193.75M147.5 1189.25V1193.75M177 1189.25V1193.75M207 1189.25V1193.75M236.5 1189.25V1193.75" stroke="#444" stroke-width="1.3" fill="none"/>
<text transform="translate(66.85 1095.87) scale(1.0 1)" font-size="17.8" text-anchor="end" font-weight="normal" fill="#000" >36</text>
<text transform="translate(66.85 1145.63) scale(1.0 1)" font-size="17.8" text-anchor="end" font-weight="normal" fill="#000" >32</text>
<text transform="translate(66.85 1195.39) scale(1.0 1)" font-size="17.8" text-anchor="end" font-weight="normal" fill="#000" >28</text>
<text transform="translate(88 1208.8) scale(1.15 1)" font-size="17" text-anchor="middle" font-weight="normal" fill="#000" >0</text>
<text transform="translate(117.5 1208.8) scale(1.15 1)" font-size="17" text-anchor="middle" font-weight="normal" fill="#000" >1</text>
<text transform="translate(147.5 1208.8) scale(1.15 1)" font-size="17" text-anchor="middle" font-weight="normal" fill="#000" >2</text>
<text transform="translate(177 1208.8) scale(1.15 1)" font-size="17" text-anchor="middle" font-weight="normal" fill="#000" >3</text>
<text transform="translate(207 1208.8) scale(1.15 1)" font-size="17" text-anchor="middle" font-weight="normal" fill="#000" >4</text>
<text transform="translate(236.5 1208.8) scale(1.15 1)" font-size="17" text-anchor="middle" font-weight="normal" fill="#000" >5</text>
<text transform="translate(103.7 1230.8) scale(1.03 1)" font-size="23" text-anchor="start" font-weight="normal" fill="#000" >Time</text>
<text transform="translate(160.8 1230.8) scale(1.065 1)" font-size="18.3" text-anchor="start" font-weight="normal" fill="#000" >(days)</text>
<text transform="translate(37.7 1189.7) rotate(-90) scale(1.02 1)" font-size="28.4" text-anchor="start" >Bim</text>
<text transform="translate(37.1 1131.5) rotate(-90) scale(1.056 1)" font-size="16.5" text-anchor="start" >(MFI x10<tspan font-size="11.5" dy="-6">2</tspan><tspan dy="6">)</tspan></text>
<path d="M86.80 1173.00L116.00 1073.50L174.50 1076.00L210.00 1120.00L239.40 1143.00" stroke="#c8c8c8" stroke-width="6.0" fill="none" stroke-linejoin="round" stroke-linecap="butt"/>
<path d="M88.8 1058V1080.5M86.3 1058H91.3M86.3 1080.5H91.3" stroke="#222" stroke-width="1.4" fill="none"/>
<path d="M103.6 1081.3V1099.5M101.1 1081.3H106.1M101.1 1099.5H106.1" stroke="#222" stroke-width="1.4" fill="none"/>
<path d="M117.9 1095.2V1129.5M115.4 1095.2H120.4M115.4 1129.5H120.4" stroke="#222" stroke-width="1.4" fill="none"/>
<path d="M147.6 1145.7V1175.7M145.1 1145.7H150.1M145.1 1175.7H150.1" stroke="#222" stroke-width="1.4" fill="none"/>
<path d="M206.5 1128V1142M204.0 1128H209.0M204.0 1142H209.0" stroke="#222" stroke-width="1.4" fill="none"/>
<path d="M236 1093.7V1111M233.5 1093.7H238.5M233.5 1111H238.5" stroke="#222" stroke-width="1.4" fill="none"/>
<path d="M88.80 1069.60L103.60 1090.30L117.90 1112.50L147.60 1161.00L176.20 1167.30L206.50 1135.30L236.00 1102.40" stroke="#000" stroke-width="3.8" fill="none" stroke-linejoin="round" />
<circle cx="88.80" cy="1069.60" r="8.1" fill="#000" stroke="#fff" stroke-width="0.8"/>
<circle cx="103.60" cy="1090.30" r="8.1" fill="#000" stroke="#fff" stroke-width="0.8"/>
<circle cx="117.90" cy="1112.50" r="8.1" fill="#000" stroke="#fff" stroke-width="0.8"/>
<circle cx="147.60" cy="1161.00" r="8.1" fill="#000" stroke="#fff" stroke-width="0.8"/>
<circle cx="176.20" cy="1167.30" r="8.1" fill="#000" stroke="#fff" stroke-width="0.8"/>
<circle cx="206.50" cy="1135.30" r="8.1" fill="#000" stroke="#fff" stroke-width="0.8"/>
<circle cx="236.00" cy="1102.40" r="8.1" fill="#000" stroke="#fff" stroke-width="0.8"/>
<path d="M147.60 1137.10L147.60 1132.70M147.60 1137.10L151.78 1135.74M147.60 1137.10L143.42 1135.74M147.60 1137.10L145.01 1140.66M147.60 1137.10L150.19 1140.66" stroke="#000" stroke-width="2.4" stroke-linecap="round" fill="none"/>
<path d="M175.90 1151.90L175.90 1147.50M175.90 1151.90L180.08 1150.54M175.90 1151.90L171.72 1150.54M175.90 1151.90L173.31 1155.46M175.90 1151.90L178.49 1155.46" stroke="#000" stroke-width="2.4" stroke-linecap="round" fill="none"/>
<path d="M204.80 1120.60L204.80 1116.20M204.80 1120.60L208.98 1119.24M204.80 1120.60L200.62 1119.24M204.80 1120.60L202.21 1124.16M204.80 1120.60L207.39 1124.16" stroke="#000" stroke-width="2.4" stroke-linecap="round" fill="none"/>
<path d="M236.30 1085.10L236.30 1080.70M236.30 1085.10L240.48 1083.74M236.30 1085.10L232.12 1083.74M236.30 1085.10L233.71 1088.66M236.30 1085.10L238.89 1088.66" stroke="#000" stroke-width="2.4" stroke-linecap="round" fill="none"/>
<text transform="translate(129.6 1058.8) scale(1.0 1)" font-size="29.3" text-anchor="start" font-weight="normal" fill="#000" >BM ProE</text>
<path d="M325.6 1045V1189M322.20000000000005 1189H503.6" stroke="#444" stroke-width="1.3" fill="none"/>
<path d="M322.20000000000005 1058.40H325.6M322.20000000000005 1101.76H325.6M322.20000000000005 1145.12H325.6M322.20000000000005 1188.48H325.6M322.20000000000005 1080.08H325.6M322.20000000000005 1123.44H325.6M322.20000000000005 1166.80H325.6M340 1189V1193.5M370 1189V1193.5M400 1189V1193.5M429 1189V1193.5M459 1189V1193.5M489 1189V1193.5" stroke="#444" stroke-width="1.3" fill="none"/>
<text transform="translate(320.7 1064.56) scale(1.0 1)" font-size="17.2" text-anchor="end" font-weight="normal" fill="#000" >20</text>
<text transform="translate(320.7 1107.92) scale(1.0 1)" font-size="17.2" text-anchor="end" font-weight="normal" fill="#000" >18</text>
<text transform="translate(320.7 1151.28) scale(1.0 1)" font-size="17.2" text-anchor="end" font-weight="normal" fill="#000" >16</text>
<text transform="translate(320.7 1194.64) scale(1.0 1)" font-size="17.2" text-anchor="end" font-weight="normal" fill="#000" >14</text>
<text transform="translate(340 1208.8) scale(1.15 1)" font-size="17" text-anchor="middle" font-weight="normal" fill="#000" >0</text>
<text transform="translate(370 1208.8) scale(1.15 1)" font-size="17" text-anchor="middle" font-weight="normal" fill="#000" >1</text>
<text transform="translate(400 1208.8) scale(1.15 1)" font-size="17" text-anchor="middle" font-weight="normal" fill="#000" >2</text>
<text transform="translate(429 1208.8) scale(1.15 1)" font-size="17" text-anchor="middle" font-weight="normal" fill="#000" >3</text>
<text transform="translate(459 1208.8) scale(1.15 1)" font-size="17" text-anchor="middle" font-weight="normal" fill="#000" >4</text>
<text transform="translate(489 1208.8) scale(1.15 1)" font-size="17" text-anchor="middle" font-weight="normal" fill="#000" >5</text>
<text transform="translate(357.5 1231.5) scale(1.057 1)" font-size="23" text-anchor="start" font-weight="normal" fill="#000" >Time</text>
<text transform="translate(415.8 1231.5) scale(0.99 1)" font-size="18.3" text-anchor="start" font-weight="normal" fill="#000" >(days)</text>
<path d="M337.50 1175.00L367.00 1075.50L425.40 1079.20L453.30 1120.60L489.80 1144.60" stroke="#c8c8c8" stroke-width="6.0" fill="none" stroke-linejoin="round" stroke-linecap="butt"/>
<path d="M340.4 1050V1067M337.9 1050H342.9M337.9 1067H342.9" stroke="#222" stroke-width="1.4" fill="none"/>
<path d="M400.1 1152V1166M397.6 1152H402.6M397.6 1166H402.6" stroke="#222" stroke-width="1.4" fill="none"/>
<path d="M429.2 1114.8V1159.6M426.7 1114.8H431.7M426.7 1159.6H431.7" stroke="#222" stroke-width="1.4" fill="none"/>
<path d="M459 1078.3V1099.4M456.5 1078.3H461.5M456.5 1099.4H461.5" stroke="#222" stroke-width="1.4" fill="none"/>
<path d="M340.40 1058.20L355.20 1051.80L369.80 1099.70L400.10 1158.60L429.20 1136.90L459.00 1088.80L488.50 1077.70" stroke="#000" stroke-width="3.8" fill="none" stroke-linejoin="round" />
<circle cx="340.40" cy="1058.20" r="8.1" fill="#000" stroke="#fff" stroke-width="0.8"/>
<circle cx="355.20" cy="1051.80" r="8.1" fill="#000" stroke="#fff" stroke-width="0.8"/>
<circle cx="369.80" cy="1099.70" r="8.1" fill="#000" stroke="#fff" stroke-width="0.8"/>
<circle cx="400.10" cy="1158.60" r="8.1" fill="#000" stroke="#fff" stroke-width="0.8"/>
<circle cx="429.20" cy="1136.90" r="8.1" fill="#000" stroke="#fff" stroke-width="0.8"/>
<circle cx="459.00" cy="1088.80" r="8.1" fill="#000" stroke="#fff" stroke-width="0.8"/>
<circle cx="488.50" cy="1077.70" r="8.1" fill="#000" stroke="#fff" stroke-width="0.8"/>
<path d="M377.10 1085.30L377.10 1080.90M377.10 1085.30L381.28 1083.94M377.10 1085.30L372.92 1083.94M377.10 1085.30L374.51 1088.86M377.10 1085.30L379.69 1088.86" stroke="#000" stroke-width="2.4" stroke-linecap="round" fill="none"/>
<path d="M401.30 1143.00L401.30 1138.60M401.30 1143.00L405.48 1141.64M401.30 1143.00L397.12 1141.64M401.30 1143.00L398.71 1146.56M401.30 1143.00L403.89 1146.56" stroke="#000" stroke-width="2.4" stroke-linecap="round" fill="none"/>
<text transform="translate(378.7 1058.8) scale(1.0 1)" font-size="29.3" text-anchor="start" font-weight="normal" fill="#000" >BM EryA</text>
</svg>
</body></html>
